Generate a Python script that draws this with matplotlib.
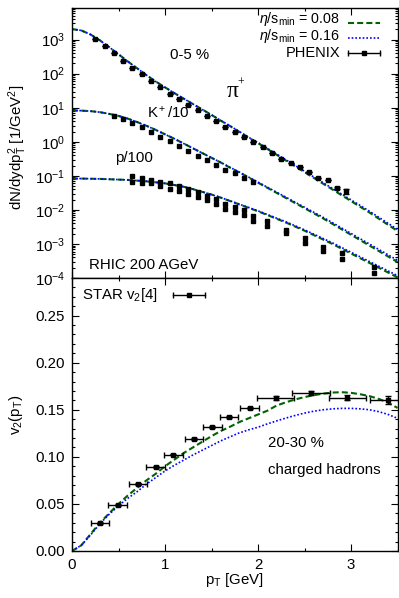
import numpy as np
import matplotlib
matplotlib.use("Agg")
import matplotlib.pyplot as plt
from matplotlib.ticker import MultipleLocator, LogLocator, FormatStrFormatter, NullFormatter

plt.rcParams['font.family'] = ['Liberation Sans', 'DejaVu Sans']
plt.rcParams['mathtext.fontset'] = 'custom'
plt.rcParams['mathtext.rm'] = 'Liberation Sans'
plt.rcParams['mathtext.it'] = 'Liberation Sans:italic'
plt.rcParams['mathtext.bf'] = 'Liberation Sans:bold'
plt.rcParams['font.size'] = 10.8

# pT grid of the hydro curves
pt_grid = np.round(np.arange(0, 3.51, 0.1), 2)

# top panel, all values are log10(dN/dydpT^2)
pi_008 = [3.31, 3.27, 3.15, 2.98, 2.78, 2.57, 2.36, 2.16, 1.96, 1.77, 1.60, 1.43, 1.27, 1.11, 0.95, 0.79,
          0.62, 0.46, 0.29, 0.12, -0.04, -0.21, -0.38, -0.55, -0.72, -0.89, -1.06, -1.23, -1.40, -1.57,
          -1.74, -1.91, -2.08, -2.26, -2.44, -2.62]
pi_016 = [3.31, 3.27, 3.15, 2.98, 2.78, 2.57, 2.36, 2.16, 1.96, 1.77, 1.60, 1.43, 1.27, 1.11, 0.95, 0.79,
          0.625, 0.468, 0.30, 0.133, -0.025, -0.193, -0.361, -0.529, -0.697, -0.865, -1.033, -1.201,
          -1.369, -1.537, -1.705, -1.873, -2.041, -2.219, -2.397, -2.575]
k_008 = [0.92, 0.915, 0.90, 0.87, 0.82, 0.76, 0.68, 0.58, 0.47, 0.35, 0.22, 0.09, -0.05, -0.19, -0.33, -0.47,
         -0.61, -0.76, -0.90, -1.05, -1.20, -1.35, -1.50, -1.65, -1.80, -1.95, -2.10, -2.25, -2.41, -2.57,
         -2.73, -2.89, -3.05, -3.21, -3.37, -3.53]
k_016 = [0.92, 0.915, 0.90, 0.87, 0.82, 0.76, 0.68, 0.58, 0.47, 0.35, 0.22, 0.09, -0.05, -0.19, -0.33, -0.47,
         -0.605, -0.752, -0.89, -1.038, -1.185, -1.333, -1.48, -1.628, -1.775, -1.922, -2.07, -2.217,
         -2.375, -2.533, -2.69, -2.848, -3.005, -3.163, -3.32, -3.48]
p_008 = [-1.08, -1.08, -1.085, -1.09, -1.10, -1.11, -1.12, -1.14, -1.16, -1.19, -1.22, -1.27, -1.32, -1.39,
         -1.47, -1.55, -1.64, -1.74, -1.84, -1.94, -2.04, -2.15, -2.26, -2.37, -2.49, -2.61, -2.74, -2.87,
         -3.00, -3.14, -3.28, -3.42, -3.56, -3.70, -3.84, -3.98]
p_016 = [-1.08, -1.08, -1.085, -1.09, -1.10, -1.11, -1.12, -1.14, -1.16, -1.19, -1.22, -1.27, -1.32, -1.39,
         -1.47, -1.55, -1.637, -1.735, -1.833, -1.93, -2.028, -2.135, -2.243, -2.35, -2.468, -2.585,
         -2.713, -2.84, -2.968, -3.105, -3.243, -3.38, -3.518, -3.655, -3.793, -3.93]

# PHENIX data (log10)
pi_pt = np.round(np.arange(0.25, 2.96, 0.1), 2)
pi_dat = [3.02, 2.82, 2.60, 2.38, 2.18, 2.00, 1.79, 1.62, 1.41, 1.26, 1.08, 0.93, 0.76, 0.61, 0.44, 0.29,
          0.15, -0.02, -0.15, -0.33, -0.51, -0.62, -0.74, -0.89, -1.06, -1.12, -1.35, -1.45]
pi_err = [0.0] * 26 + [0.003, 0.006]
k_pt = np.round(np.arange(0.45, 1.96, 0.1), 2)
k_dat = [0.76, 0.67, 0.54, 0.42, 0.28, 0.15, 0.01, -0.13, -0.28, -0.41, -0.54, -0.69, -0.83, -0.93, -1.06, -1.18]
p_pt = [0.65, 0.75, 0.85, 0.95, 1.05, 1.15, 1.25, 1.35, 1.45, 1.55, 1.65, 1.75, 1.85, 1.95, 2.1, 2.3, 2.5,
        2.7, 2.9, 3.25]
p_hi = [-1.00, -1.06, -1.13, -1.18, -1.22, -1.29, -1.40, -1.47, -1.59, -1.69, -1.82, -1.92, -2.00, -2.17,
        -2.33, -2.59, -2.82, -3.09, -3.26, -3.68]
p_lo = [-1.18, -1.21, -1.22, -1.30, -1.39, -1.45, -1.54, -1.62, -1.70, -1.83, -1.96, -2.05, -2.15, -2.32,
        -2.48, -2.69, -2.97, -3.21, -3.45, -3.85]

# bottom panel
v2_008 = [0.000, 0.006, 0.018, 0.030, 0.040, 0.050, 0.059, 0.067, 0.075, 0.082, 0.090, 0.097, 0.104, 0.110,
          0.116, 0.122, 0.1275, 0.132, 0.137, 0.141, 0.145, 0.149, 0.1545, 0.158, 0.161, 0.1635, 0.1655,
          0.1672, 0.1683, 0.1687, 0.168, 0.1665, 0.1645, 0.1615, 0.1575, 0.152]
v2_016 = [0.000, 0.006, 0.017, 0.029, 0.039, 0.048, 0.056, 0.063, 0.071, 0.078, 0.085, 0.091, 0.0965, 0.102,
          0.107, 0.112, 0.117, 0.1213, 0.1255, 0.1287, 0.1315, 0.135, 0.1382, 0.1412, 0.144, 0.1465,
          0.1485, 0.150, 0.151, 0.1515, 0.1515, 0.151, 0.150, 0.148, 0.145, 0.141]
star_pt = [0.30, 0.49, 0.71, 0.90, 1.09, 1.31, 1.51, 1.69, 1.91, 2.19, 2.57, 2.96, 3.40]
star_v2 = [0.0296, 0.049, 0.0715, 0.089, 0.1025, 0.119, 0.1317, 0.142, 0.152, 0.1626, 0.1676, 0.163, 0.1605]
star_xerr = [0.1] * 9 + [0.2] * 4
star_yerr = [0.001] * 9 + [0.002, 0.002, 0.003, 0.004]

green = '#006400'
blue = '#0000ff'
dash = (0, (2.9, 1.5))
dot = (0, (1, 1.2))
ms = 3.3

W, H = 399, 598
fig = plt.figure(figsize=(W / 100, H / 100), dpi=100)
L, R = 72, 397.5
ax1 = fig.add_axes([L / W, 1 - 278 / H, (R - L) / W, 270 / H])
ax2 = fig.add_axes([L / W, 1 - 551 / H, (R - L) / W, 273 / H])

def lin(a):
    return 10 ** np.array(a)

for c08, c16 in [(pi_008, pi_016), (k_008, k_016), (p_008, p_016)]:
    ax1.plot(pt_grid, lin(c08), color=green, lw=1.5, linestyle=dash)
    ax1.plot(pt_grid, lin(c16), color=blue, lw=1.2, linestyle=dot)

ax1.errorbar(pi_pt, lin(pi_dat), yerr=np.array(pi_err), fmt='s', color='k', ms=ms, elinewidth=1, capsize=2)
ax1.plot(k_pt, lin(k_dat), 's', color='k', ms=ms)
ax1.plot(p_pt, lin(p_hi), 's', color='k', ms=ms)
ax1.plot(p_pt, lin(p_lo), 's', color='k', ms=ms)

ax1.set_yscale('log')
ax1.set_xlim(0, 3.5)
ax1.set_ylim(1e-4, 8.5e3)
ax1.yaxis.set_major_locator(LogLocator(base=10, numticks=20))
ax1.yaxis.set_minor_locator(LogLocator(base=10, subs=np.arange(2, 10), numticks=20))
ax1.yaxis.set_minor_formatter(NullFormatter())
ax1.xaxis.set_major_locator(MultipleLocator(1))
ax1.xaxis.set_minor_locator(MultipleLocator(0.5))
ax1.tick_params(labelbottom=False)

ax2.plot(pt_grid, v2_008, color=green, lw=1.5, linestyle=dash)
ax2.plot(pt_grid, v2_016, color=blue, lw=1.2, linestyle=dot)
ax2.errorbar(star_pt, star_v2, xerr=star_xerr, yerr=star_yerr, fmt='s', color='k', ms=ms,
             elinewidth=1, capsize=2)
ax2.set_xlim(0, 3.5)
ax2.set_ylim(0, 0.29)
ax2.xaxis.set_major_locator(MultipleLocator(1))
ax2.xaxis.set_minor_locator(MultipleLocator(0.5))
ax2.yaxis.set_major_locator(MultipleLocator(0.05))
ax2.yaxis.set_minor_locator(MultipleLocator(0.01))
ax2.yaxis.set_major_formatter(FormatStrFormatter('%.2f'))

for ax in (ax1, ax2):
    ax.tick_params(which='both', direction='in', top=True, right=True, width=0.8)
    ax.tick_params(which='major', length=5, pad=5)
    ax.tick_params(which='minor', length=2.5)
    for s in ax.spines.values():
        s.set_linewidth(1.0)

# key, drawn by hand in gnuplot style
def key_err(ax, x0, x1, y):
    ax.plot([x0, x1], [y, y], color='k', lw=1, transform=ax.transAxes, clip_on=False)
    ax.plot([x0, x1], [y, y], '|', color='k', ms=4, mew=1, transform=ax.transAxes, clip_on=False)
    ax.plot([(x0 + x1) / 2], [y], 's', color='k', ms=ms, transform=ax.transAxes, clip_on=False)

kx0, kx1, ktx = 0.848, 0.947, 0.823
ax1.plot([kx0, kx1], [0.945, 0.945], color=green, lw=1.5, linestyle=dash, transform=ax1.transAxes)
ax1.plot([kx0, kx1], [0.888, 0.888], color=blue, lw=1.2, linestyle=dot, transform=ax1.transAxes)
key_err(ax1, kx0, kx1, 0.832)
ax1.text(ktx, 0.958, r'$\eta$/s$_\mathrm{min}$ = 0.08', ha='right', va='center', fontsize=10.3,
         transform=ax1.transAxes)
ax1.text(ktx, 0.898, r'$\eta$/s$_\mathrm{min}$ = 0.16', ha='right', va='center', fontsize=10.3,
         transform=ax1.transAxes)
ax1.text(ktx, 0.832, 'PHENIX', ha='right', va='center', fontsize=10.5, transform=ax1.transAxes)

ax1.text(0.3625, 0.826, '0-5 %', ha='center', va='center', transform=ax1.transAxes)
ax1.text(0.493, 0.690, 'π', ha='center', va='center', fontsize=17, family='Liberation Serif',
         transform=ax1.transAxes)
ax1.text(0.518, 0.722, '+', ha='center', va='center', fontsize=8.5, family='Liberation Serif',
         transform=ax1.transAxes)
ax1.text(0.2304, 0.611, r'K$^+$/10', ha='left', va='center', transform=ax1.transAxes)
ax1.text(0.132, 0.444, 'p/100', ha='left', va='center', transform=ax1.transAxes)
ax1.text(0.053, 0.048, 'RHIC 200 AGeV', ha='left', va='center', transform=ax1.transAxes)

ax2.text(0.030, 0.938, r'STAR v$_2$[4]', ha='left', va='center', transform=ax2.transAxes)
key_err(ax2, 0.31, 0.409, 0.938)
ax2.text(0.603, 0.394, '20-30 %', ha='left', va='center', transform=ax2.transAxes)
ax2.text(0.603, 0.297, 'charged hadrons', ha='left', va='center', transform=ax2.transAxes)

fig.text(18 / W, 1 - 147 / H, r'dN/dydp$_\mathrm{T}^2$ [1/GeV$^2$]', rotation=90, ha='center', va='center')
fig.text(16 / W, 1 - 415 / H, r'v$_2$(p$_\mathrm{T}$)', rotation=90, ha='center', va='center')
fig.text(234.7 / W, 1 - 580 / H, r'p$_\mathrm{T}$ [GeV]', ha='center', va='center')

fig.savefig('out.png', dpi=100)
